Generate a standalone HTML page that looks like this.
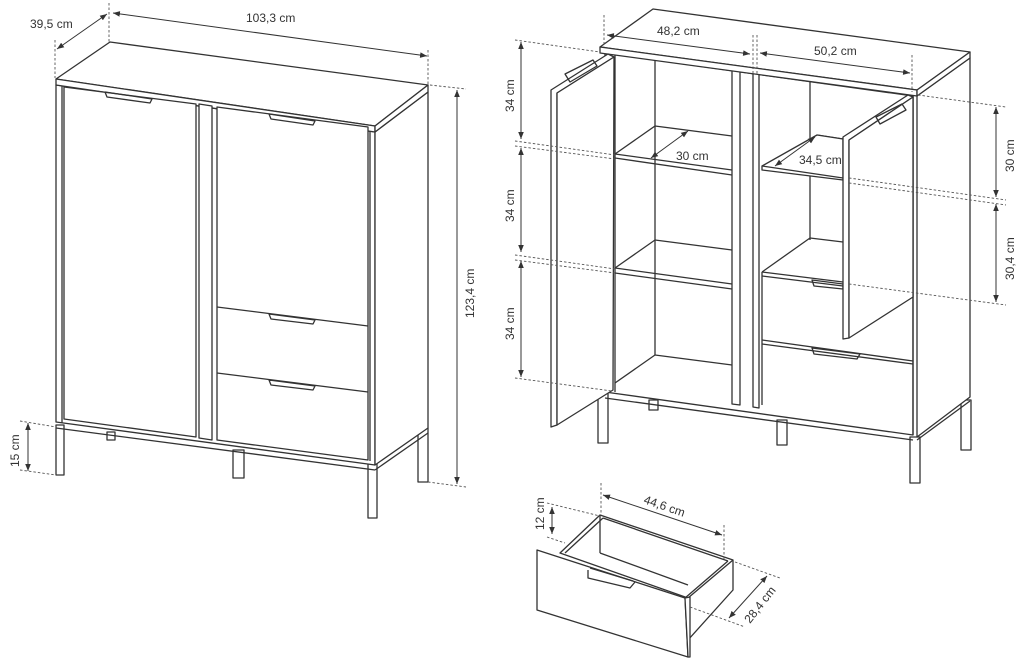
<!DOCTYPE html>
<html><head><meta charset="utf-8"><style>
html,body{margin:0;padding:0;background:#fff;}
svg{display:block}
text{font-family:"Liberation Sans",sans-serif;font-size:12px;fill:#333;}
.l{stroke:#333;stroke-width:1.3;fill:none;stroke-linejoin:round}
.f{stroke:#333;stroke-width:1.3;fill:#fff;stroke-linejoin:round}
.d{stroke:#555;stroke-width:0.9;stroke-dasharray:2.5,2;fill:none}
.a{stroke:#333;stroke-width:1;fill:none;marker-start:url(#ar);marker-end:url(#ar)}
</style></head><body>
<svg width="1020" height="667" viewBox="0 0 1020 667" xmlns="http://www.w3.org/2000/svg">
<defs><marker id="ar" viewBox="0 0 10 10" refX="10" refY="5" markerWidth="7" markerHeight="7" orient="auto-start-reverse"><path d="M0,1 L10,5 L0,9 z" fill="#333"/></marker></defs>

<!-- LEFT CABINET -->
<rect class="f" x="56" y="425" width="8" height="50"/>
<rect class="f" x="233" y="450" width="11" height="28"/>
<rect class="f" x="368" y="462" width="9" height="56"/>
<rect class="f" x="418" y="428" width="10" height="54"/>
<rect class="f" x="107" y="432" width="8" height="8"/>
<polygon class="f" points="56,85 375,132 375,465 56,422"/>
<polygon class="f" points="375,132 428,92 428,428 375,465"/>
<line class="l" x1="370" y1="131" x2="370" y2="461"/>
<line class="l" x1="62" y1="86" x2="62" y2="423"/>
<line class="l" x1="56" y1="428" x2="375" y2="470"/>
<line class="l" x1="375" y1="470" x2="428" y2="433"/>
<polygon class="f" points="110,42 428,85 375,126 56,79"/>
<polygon class="f" points="56,79 375,126 375,132 56,85"/>
<polygon class="f" points="375,126 428,85 428,92 375,132"/>
<polygon class="f" points="64,87 196,104 196,437 64,419"/>
<polygon class="f" points="199,104 212,106 212,440 199,438"/>
<polygon class="f" points="217,107 368,127 368,460 217,440"/>
<line class="l" x1="217" y1="307" x2="368" y2="326"/>
<line class="l" x1="217" y1="373" x2="368" y2="392"/>
<path class="l" d="M105,92 L152,99 L150,103 L107,97 Z"/>
<path class="l" d="M269,114 L315,121 L313,125 L271,119 Z"/>
<path class="l" d="M269,314 L315,320 L313,324 L271,319 Z"/>
<path class="l" d="M269,380 L315,386 L313,390 L271,385 Z"/>
<line class="d" x1="55" y1="40" x2="55" y2="78"/>
<line class="d" x1="109" y1="3" x2="109" y2="42"/>
<line class="a" x1="57" y1="49" x2="107" y2="14"/>
<text x="30" y="28">39,5 cm</text>
<line class="a" x1="113" y1="13" x2="427" y2="56"/>
<line class="d" x1="428" y1="50" x2="428" y2="85"/>
<text x="246" y="22">103,3 cm</text>
<line class="d" x1="430" y1="85" x2="466" y2="89"/>
<line class="d" x1="428" y1="482" x2="466" y2="487"/>
<line class="a" x1="457" y1="90" x2="457" y2="484"/>
<text transform="translate(474,318) rotate(-90)">123,4 cm</text>
<line class="d" x1="20" y1="421" x2="56" y2="427"/>
<line class="d" x1="20" y1="470" x2="56" y2="475"/>
<line class="a" x1="28" y1="423" x2="28" y2="471"/>
<text transform="translate(19,467) rotate(-90)">15 cm</text>

<!-- RIGHT CABINET -->
<rect class="f" x="598" y="392" width="10" height="51"/>
<rect class="f" x="777" y="420" width="10" height="25"/>
<rect class="f" x="910" y="437" width="10" height="46"/>
<rect class="f" x="961" y="400" width="10" height="50"/>
<rect class="f" x="649" y="400" width="9" height="10"/>
<polygon class="f" points="605,53 913,96 913,435 605,392"/>
<polygon class="f" points="917,96 970,58 970,397 917,437"/>
<line class="l" x1="913" y1="96" x2="913" y2="435"/>
<line class="l" x1="605" y1="398" x2="913" y2="440"/>
<line class="l" x1="917" y1="440" x2="970" y2="401"/>
<line class="l" x1="615" y1="55" x2="615" y2="392"/>
<line class="l" x1="655" y1="60" x2="655" y2="355"/>
<line class="l" x1="655" y1="126" x2="732" y2="136"/>
<line class="l" x1="615" y1="154" x2="655" y2="126"/>
<line class="l" x1="615" y1="154" x2="732" y2="170"/>
<line class="l" x1="615" y1="158" x2="732" y2="175"/>
<line class="l" x1="655" y1="240" x2="732" y2="250"/>
<line class="l" x1="615" y1="268" x2="655" y2="240"/>
<line class="l" x1="615" y1="268" x2="732" y2="284"/>
<line class="l" x1="615" y1="273" x2="732" y2="289"/>
<line class="l" x1="655" y1="355" x2="732" y2="365"/>
<line class="l" x1="615" y1="383" x2="655" y2="355"/>
<polygon class="f" points="732,70 740,71 740,405 732,404"/>
<polygon class="f" points="753,72 759,73 759,408 753,407"/>
<line class="l" x1="810" y1="80" x2="810" y2="240"/>
<line class="l" x1="817" y1="135" x2="843" y2="139"/>
<polygon class="f" points="762,166 817,135 843,139 843,180 762,170"/>
<line class="l" x1="762" y1="166" x2="843" y2="178"/>
<line class="l" x1="810" y1="238" x2="843" y2="242"/>
<line class="l" x1="762" y1="272" x2="810" y2="238"/>
<line class="l" x1="762" y1="272" x2="843" y2="282"/>
<line class="l" x1="762" y1="276" x2="843" y2="286"/>
<line class="l" x1="762" y1="272" x2="762" y2="405"/>
<line class="l" x1="762" y1="340" x2="913" y2="361"/>
<line class="l" x1="762" y1="344" x2="913" y2="364"/>
<path class="l" d="M812,280 L843,284 L843,289 L814,286 Z"/>
<path class="l" d="M812,348 L860,354 L857,359 L814,354 Z"/>
<polygon class="f" points="653,9 970,52 917,90 600,47"/>
<polygon class="f" points="600,47 917,90 917,96 600,53"/>
<polygon class="f" points="917,90 970,52 970,58 917,96"/>
<polygon class="f" points="551,90 608,54 614,57 557,93 557,425 551,427"/>
<polygon class="f" points="557,93 614,57 613,390 557,425"/>
<path class="l" d="M565,74 L593,60 L597,66 L570,82 Z"/>
<polygon class="f" points="843,137 908,95 913,97 849,140 849,338 843,339"/>
<polygon class="f" points="849,140 913,97 913,297 849,338"/>
<path class="l" d="M876,117 L902,104 L906,110 L880,124 Z"/>
<line class="d" x1="604" y1="15" x2="604" y2="47"/>
<line class="d" x1="753" y1="35" x2="753" y2="75"/>
<line class="d" x1="757" y1="35" x2="757" y2="75"/>
<line class="d" x1="912" y1="55" x2="912" y2="92"/>
<line class="a" x1="607" y1="35" x2="750" y2="54"/>
<text x="657" y="35">48,2 cm</text>
<line class="a" x1="760" y1="53" x2="910" y2="73"/>
<text x="814" y="55">50,2 cm</text>
<line class="a" x1="651" y1="158" x2="688" y2="131"/>
<text x="676" y="160">30 cm</text>
<line class="a" x1="775" y1="166" x2="815" y2="137"/>
<text x="799" y="164">34,5 cm</text>
<line class="d" x1="515" y1="40" x2="600" y2="52"/>
<line class="d" x1="515" y1="141" x2="615" y2="155"/>
<line class="d" x1="515" y1="146" x2="615" y2="159"/>
<line class="d" x1="515" y1="255" x2="615" y2="269"/>
<line class="d" x1="515" y1="260" x2="615" y2="273"/>
<line class="d" x1="515" y1="378" x2="612" y2="391"/>
<line class="a" x1="521" y1="42" x2="521" y2="139"/>
<line class="a" x1="521" y1="148" x2="521" y2="252"/>
<line class="a" x1="521" y1="261" x2="521" y2="377"/>
<text transform="translate(514,112) rotate(-90)">34 cm</text>
<text transform="translate(514,222) rotate(-90)">34 cm</text>
<text transform="translate(514,340) rotate(-90)">34 cm</text>
<line class="d" x1="918" y1="95" x2="1006" y2="107"/>
<line class="d" x1="849" y1="178" x2="1006" y2="200"/>
<line class="d" x1="849" y1="183" x2="1006" y2="205"/>
<line class="d" x1="849" y1="284" x2="1006" y2="305"/>
<line class="a" x1="996" y1="107" x2="996" y2="197"/>
<line class="a" x1="996" y1="204" x2="996" y2="302"/>
<text transform="translate(1014,172) rotate(-90)">30 cm</text>
<text transform="translate(1014,280) rotate(-90)">30,4 cm</text>

<!-- DRAWER -->
<polygon class="f" points="600,515 733,560 733,590 688,640 688,598 560,553"/>
<line class="l" x1="600" y1="515" x2="600" y2="553"/>
<line class="l" x1="603" y1="518" x2="728" y2="561"/>
<line class="l" x1="603" y1="518" x2="565" y2="553"/>
<line class="l" x1="600" y1="553" x2="688" y2="585"/>
<line class="l" x1="733" y1="560" x2="688" y2="598"/>
<line class="l" x1="728" y1="561" x2="685" y2="598"/>
<polygon class="f" points="537,550 685,598 688,657 537,610"/>
<polygon class="f" points="685,598 690,597 690,657 688,657"/>
<path class="l" d="M588,570 L588,578 L630,588 L635,582" />
<path class="l" d="M590,568 L633,581"/>
<line class="d" x1="601" y1="483" x2="601" y2="515"/>
<line class="d" x1="724" y1="525" x2="724" y2="560"/>
<line class="a" x1="603" y1="495" x2="722" y2="535"/>
<text transform="translate(643,503) rotate(19)">44,6 cm</text>
<line class="d" x1="547" y1="503" x2="600" y2="516"/>
<line class="d" x1="547" y1="537" x2="565" y2="543"/>
<line class="a" x1="552" y1="507" x2="552" y2="534"/>
<text transform="translate(544,530) rotate(-90)">12 cm</text>
<line class="d" x1="735" y1="562" x2="780" y2="578"/>
<line class="d" x1="690" y1="607" x2="745" y2="627"/>
<line class="a" x1="767" y1="576" x2="729" y2="618"/>
<text transform="translate(750,624) rotate(-52)">28,4 cm</text>
</svg>
</body></html>
